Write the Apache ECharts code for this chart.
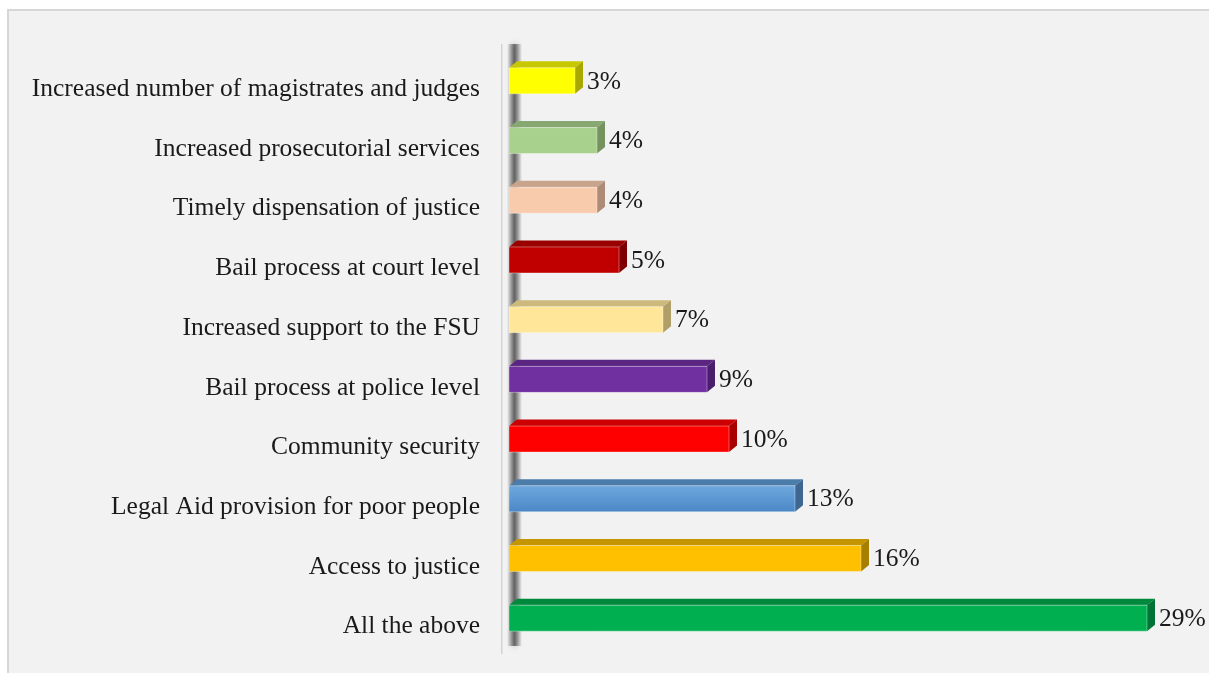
<!DOCTYPE html>
<html>
<head>
<meta charset="utf-8">
<title>Priority areas</title>
<script src="https://cdn.jsdelivr.net/npm/echarts@6/dist/echarts.min.js"></script>
<style>
  html, body { margin: 0; padding: 0; background: #ffffff; }
  #chart { width: 1209px; height: 673px; }
</style>
</head>
<body>
<div id="chart"></div>
<script>
// Categories listed top to bottom
const categories = [
  'Increased number of magistrates and judges',
  'Increased prosecutorial services',
  'Timely dispensation of justice',
  'Bail process at court level',
  'Increased support to the FSU',
  'Bail process at police level',
  'Community security',
  'Legal Aid provision for poor people',
  'Access to justice',
  'All the above'
];
const values = [3, 4, 4, 5, 7, 9, 10, 13, 16, 29];

// front / top / side face colours per bar
const frontColors = ['#FFFF00', '#A9D18E', '#F8CBAD', '#C00000', '#FFE699', '#7030A0', '#FF0000', '#5B9BD5', '#FFC000', '#00B050'];
const topColors   = ['#C8C800', '#88A872', '#C9A48C', '#9A0000', '#CDB97B', '#5A2682', '#CC0000', '#4C7DAA', '#C49500', '#00883D'];
const sideColors  = ['#A8A800', '#76925F', '#AE8B76', '#7E0000', '#B09F69', '#4A1E6C', '#A80000', '#3E6690', '#A67E00', '#007434'];

const DX = 8, DY = 6.5, BAR_H = 26;
const FONT = '"Liberation Serif", "Times New Roman", serif';
const FONT_SIZE = 25.5;

function renderBar(params, api) {
  const idx = api.value(0);
  const val = api.value(1);
  const p0 = api.coord([0, idx]);
  const p1 = api.coord([val, idx]);
  const x0 = p0[0], x1 = p1[0];
  const y0 = p0[1] - BAR_H / 2, y1 = y0 + BAR_H;
  const i = params.dataIndex;
  let front = frontColors[i];
  if (i === 7) {
    front = new echarts.graphic.LinearGradient(0, 0, 0, 1, [
      { offset: 0, color: '#6FA8DE' },
      { offset: 1, color: '#4A88C6' }
    ]);
  }
  return {
    type: 'group',
    children: [
      {
        type: 'polygon',
        shape: { points: [[x0, y0], [x0 + DX, y0 - DY], [x1 + DX, y0 - DY], [x1, y0]] },
        style: { fill: topColors[i] }
      },
      {
        type: 'polygon',
        shape: { points: [[x1, y0], [x1 + DX, y0 - DY], [x1 + DX, y1 - DY], [x1, y1]] },
        style: { fill: sideColors[i] }
      },
      {
        type: 'rect',
        shape: { x: x0, y: y0, width: x1 - x0, height: BAR_H },
        style: { fill: front, stroke: 'rgba(255,255,255,0.35)', lineWidth: 1 }
      },
      {
        type: 'text',
        x: x1 + DX + 4,
        y: p0[1] + 1,
        style: {
          text: val + '%',
          fill: '#1a1a1a',
          font: FONT_SIZE + 'px ' + FONT,
          verticalAlign: 'middle',
          align: 'left'
        }
      }
    ]
  };
}

const chart = echarts.init(document.getElementById('chart'), null, { renderer: 'canvas' });

chart.setOption({
  backgroundColor: '#ffffff',
  animation: false,
  graphic: [
    {
      // chart panel
      type: 'rect',
      z: -10,
      shape: { x: 8, y: 10, width: 1220, height: 680 },
      style: { fill: '#F2F2F2', stroke: '#D6D6D6', lineWidth: 2 }
    },
    {
      // thin floor line of the axis
      type: 'rect',
      z: -5,
      shape: { x: 501, y: 44, width: 1.5, height: 610 },
      style: { fill: '#D4D4D4' }
    },
    {
      // back wall of the value axis (soft shaded edge)
      type: 'rect',
      z: -4,
      shape: { x: 507, y: 44, width: 15, height: 602 },
      style: {
        fill: new echarts.graphic.LinearGradient(0, 0, 1, 0, [
          { offset: 0, color: 'rgba(70,70,70,0)' },
          { offset: 0.35, color: 'rgba(55,55,55,0.5)' },
          { offset: 0.5, color: 'rgba(45,45,45,0.65)' },
          { offset: 0.65, color: 'rgba(55,55,55,0.5)' },
          { offset: 1, color: 'rgba(70,70,70,0)' }
        ]),
        shadowBlur: 6,
        shadowColor: 'rgba(0,0,0,0.25)'
      }
    }
  ],
  grid: { left: 509, top: 51, width: 660, height: 597, containLabel: false },
  xAxis: {
    type: 'value',
    min: 0,
    max: 30,
    show: false
  },
  yAxis: {
    type: 'category',
    data: categories,
    inverse: true,
    axisLine: { show: false },
    axisTick: { show: false },
    splitLine: { show: false },
    axisLabel: {
      margin: 29,
      color: '#1a1a1a',
      fontFamily: FONT,
      fontSize: FONT_SIZE,
      verticalAlign: 'top',
      lineHeight: 17
    }
  },
  series: [{
    type: 'custom',
    renderItem: renderBar,
    encode: { x: 1, y: 0 },
    data: values.map((v, i) => [i, v])
  }]
});
</script>
</body>
</html>
